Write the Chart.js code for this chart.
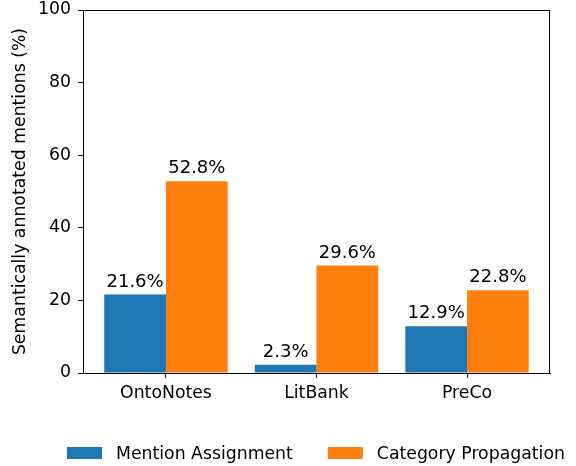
<!DOCTYPE html>
<html>
<head>
<meta charset="utf-8">
<script src="https://cdn.jsdelivr.net/npm/chart.js@4.4.1/dist/chart.umd.min.js"></script>
<style>
html,body{margin:0;padding:0;background:#fff;}
#wrap{width:576px;height:466px;}
</style>
</head>
<body>
<div id="wrap"><canvas id="c" width="576" height="466"></canvas></div>
<script>
const categories = ["OntoNotes", "LitBank", "PreCo"];
const mentionAssignment = [21.6, 2.3, 12.9];
const categoryPropagation = [52.8, 29.6, 22.8];
const yTicks = [0, 20, 40, 60, 80, 100];
const seriesNames = ["Mention Assignment", "Category Propagation"];
const yTitle = "Semantically annotated mentions (%)";

const FONT = "'DejaVu Sans', sans-serif";
const FS = 17.3;
const BLUE = "#1f77b4", ORANGE = "#ff7f0e";

function toPoints(arr){ return arr.map((v,i)=>({x:i, y:v})); }

const frameAndLabels = {
  id: 'frameAndLabels',
  afterDatasetsDraw(chart){
    const ctx = chart.ctx;
    const a = chart.chartArea;
    ctx.save();
    ctx.font = "18px " + FONT;
    ctx.fillStyle = "#000";
    ctx.textAlign = "center";
    ctx.textBaseline = "alphabetic";
    chart.data.datasets.forEach((ds, di) => {
      const meta = chart.getDatasetMeta(di);
      meta.data.forEach((el, i) => {
        ctx.fillText(ds.data[i].y.toFixed(1) + "%", el.x, el.y - 8);
      });
    });
    ctx.strokeStyle = "#000";
    ctx.lineWidth = 1;
    ctx.strokeRect(Math.round(a.left)+0.5, Math.round(a.top)+0.5, Math.round(a.right-a.left)-1, Math.round(a.bottom-a.top));
    ctx.restore();
  },
  afterDraw(chart){
    const ctx = chart.ctx;
    const a = chart.chartArea;
    ctx.save();
    ctx.font = FS + "px " + FONT;
    ctx.textBaseline = "alphabetic";
    ctx.textAlign = "left";
    const boxW = 35, boxH = 12, pad = 14, gap = 35;
    const items = chart.data.datasets.map(ds => ({label: ds.label, color: ds.backgroundColor, w: ctx.measureText(ds.label).width}));
    let total = 0;
    items.forEach((it, i) => { total += boxW + pad + it.w + (i ? gap : 0); });
    let x = Math.round((a.left + a.right)/2 - total/2) - 1;
    const baseY = 459;
    items.forEach(it => {
      ctx.fillStyle = it.color;
      ctx.fillRect(x, baseY - boxH, boxW, boxH);
      ctx.fillStyle = "#000";
      ctx.fillText(it.label, x + boxW + pad, baseY);
      x += boxW + pad + it.w + gap;
    });
    ctx.restore();
  }
};

new Chart(document.getElementById('c'), {
  type: 'bar',
  data: {
    datasets: [
      {label: seriesNames[0], data: toPoints(mentionAssignment), backgroundColor: BLUE, borderWidth: 0},
      {label: seriesNames[1], data: toPoints(categoryPropagation), backgroundColor: ORANGE, borderWidth: 0}
    ]
  },
  options: {
    responsive: false,
    animation: false,
    devicePixelRatio: 1,
    datasets: { bar: { categoryPercentage: 0.82, barPercentage: 1.0, grouped: true } },
    layout: { padding: { left: 0, right: 26, top: 10, bottom: 0 } },
    plugins: { legend: { display: false }, tooltip: { enabled: false } },
    scales: {
      x: {
        type: 'linear',
        offset: false,
        min: -0.551, max: 2.551,
        afterBuildTicks(scale){ scale.ticks = categories.map((c,i)=>({value:i})); },
        afterFit(scale){ scale.height = 93; scale.paddingLeft = 0; scale.paddingRight = 0; },
        ticks: {
          color: "#000",
          font: { family: FONT, size: FS },
          padding: 5,
          autoSkip: false,
          maxRotation: 0,
          callback: (v) => categories[v] !== undefined ? categories[v] : ''
        },
        grid: { offset: false, drawOnChartArea: false, drawTicks: true, tickLength: 5, color: "#000", lineWidth: 1 },
        border: { display: true, color: "#000", width: 1 }
      },
      y: {
        min: 0, max: 100,
        afterBuildTicks(scale){ scale.ticks = yTicks.map(v=>({value:v})); },
        afterFit(scale){ scale.width = 83; scale.paddingTop = 0; scale.paddingBottom = 0; },
        ticks: {
          color: "#000",
          font: { family: FONT, size: FS },
          padding: 7
        },
        grid: { drawOnChartArea: false, drawTicks: true, tickLength: 5, color: "#000", lineWidth: 1 },
        border: { display: true, color: "#000", width: 1 },
        title: { display: true, text: yTitle, color: "#000", font: { family: FONT, size: FS }, padding: { top: 10, bottom: 0 } }
      }
    }
  },
  plugins: [frameAndLabels]
});
</script>
</body>
</html>
